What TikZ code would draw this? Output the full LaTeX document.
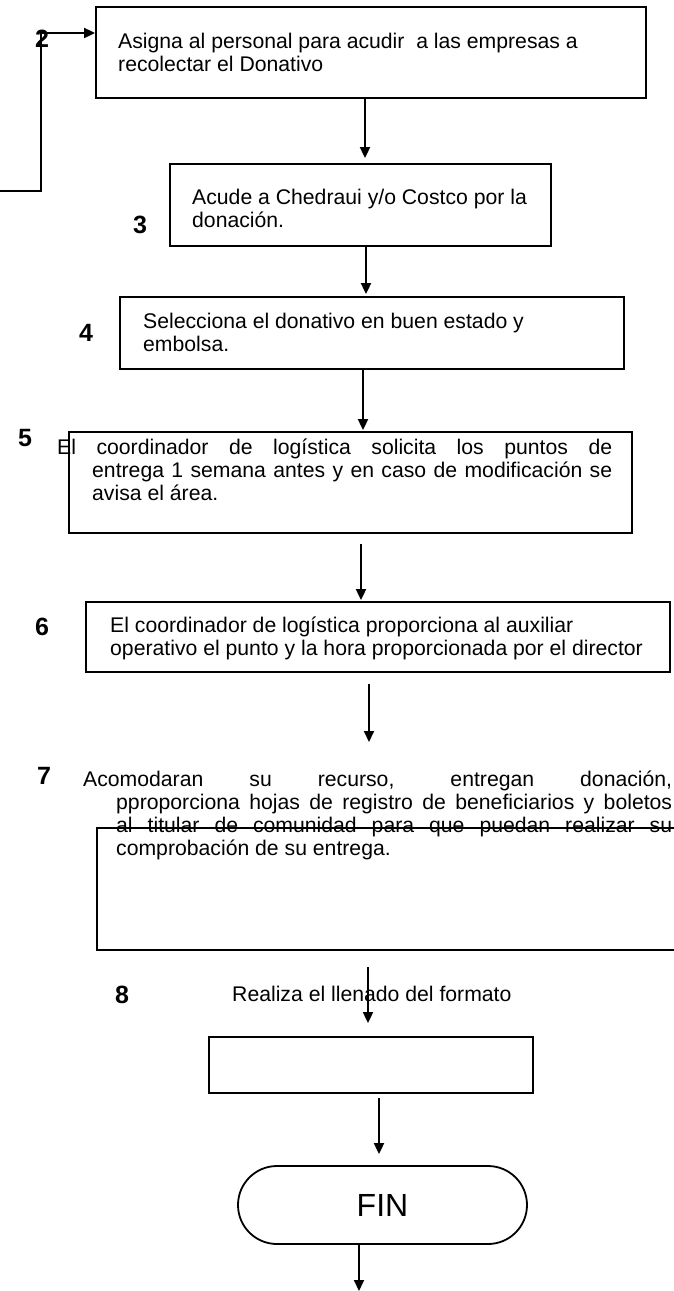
\documentclass[tikz,border=0pt]{standalone}
\usepackage{fontspec}
\setmainfont{Liberation Sans}
\usetikzlibrary{arrows.meta,calc}
\begin{document}
\begin{tikzpicture}[x=1pt,y=-1pt,
  box/.style={draw, line width=1.8pt, inner sep=0pt},
  arr/.style={-{Triangle[length=11pt,width=10pt]}, line width=1.8pt},
  txt/.style={inner sep=0pt, anchor=base west, font=\fontsize{21.2}{23}\selectfont},
  num/.style={inner sep=0pt, font=\bfseries\fontsize{25}{25}\selectfont}]
\useasboundingbox (0,0) rectangle (673,1291);
% boxes
\node[box, minimum width=550pt, minimum height=91pt] (b1) at (371,52.5) {};
\node[box, minimum width=381pt, minimum height=82pt] (b2) at (360.5,205) {};
\node[box, minimum width=504pt, minimum height=72pt] (b4) at (372,333) {};
\node[box, minimum width=563pt, minimum height=101pt] (b5) at (350.5,482.5) {};
\node[box, minimum width=584pt, minimum height=70pt] (b6) at (378,637) {};
\node[box, minimum width=600pt, minimum height=122pt] (b7) at (397,889) {};
\node[box, minimum width=324pt, minimum height=56pt] (b8) at (371,1065) {};
\node[box, minimum width=289pt, minimum height=78pt, rounded corners=39pt,
      font=\fontsize{32}{32}\selectfont] (fin) at (382.5,1205) {FIN};
% texts
\node[txt] (t1) at (118,48) {\parbox[t]{540pt}{\raggedright Asigna al personal para acudir\ \ a las empresas a\\recolectar el Donativo}};
\node[txt] (t2) at (192,204) {\parbox[t]{360pt}{\raggedright Acude a Chedraui y/o Costco por la\\donación.}};
\node[txt] (t4) at (143,328) {\parbox[t]{480pt}{\raggedright Selecciona el donativo en buen estado y\\embolsa.}};
\node[txt] (t5) at (57,454) {\parbox[t]{560pt}{\raggedright
  \makebox[555pt][s]{El coordinador de logística solicita los puntos de}\\
  \hspace*{35pt}\makebox[520pt][s]{entrega 1 semana antes y en caso de modificación se}\\
  \hspace*{35pt}avisa el área.}};
\node[txt] (t6) at (110,632) {\parbox[t]{560pt}{\raggedright El coordinador de logística proporciona al auxiliar\\operativo el punto y la hora proporcionada por el director}};
\node[txt] (t7) at (83,786) {\parbox[t]{600pt}{\raggedright
  \makebox[589pt][s]{Acomodaran su recurso, entregan donación,}\\
  \hspace*{33pt}\makebox[556pt][s]{pproporciona hojas de registro de beneficiarios y boletos}\\
  \hspace*{33pt}\makebox[556pt][s]{al titular de comunidad para que puedan realizar su}\\
  \hspace*{33pt}comprobación de su entrega.}};
\node[txt] (t8) at (232,1001) {Realiza el llenado del formato};
% connector x positions
\coordinate (a1) at (365,0);
\coordinate (a2) at (366,0);
\coordinate (a3) at (363,0);
\coordinate (a4) at (361,0);
\coordinate (a5) at (369,0);
\coordinate (a6) at (368,0);
\coordinate (a7) at (379,0);
\coordinate (a8) at (359,0);
\coordinate (e5) at (369,742);
\coordinate (e8) at (359,1291);
% arrows
\draw[arr] (b1.south -| a1) -- ($(b2.north -| a1)+(0,-5)$);
\draw[arr] (b2.south -| a2) -- ($(b4.north -| a2)+(0,-2)$);
\draw[arr] (b4.south -| a3) -- ($(b5.north -| a3)+(0,-1)$);
\draw[arr] ($(b5.south -| a4)+(0,10)$) -- ($(b6.north -| a4)+(0,-1)$);
\draw[arr] ($(b6.south -| a5)+(0,11)$) -- (e5);
\draw[arr] ($(b7.south -| a6)+(0,16)$) -- ($(b8.north -| a6)+(0,-13)$);
\draw[arr] ($(b8.south -| a7)+(0,4)$) -- ($(fin.north -| a7)+(0,-11)$);
\draw[arr] (fin.south -| a8) -- (e8);
% feedback connector
\coordinate (fb0) at (0,191);
\coordinate (fbk) at (41,33);
\draw[arr] (fb0) -| (fbk) -- (fbk -| b1.west);
% step numbers
\node[num] (n2) at (42,39) {2};
\node[num] (n3) at (140,225) {3};
\node[num] (n4) at (86,333) {4};
\node[num] (n5) at (25,438) {5};
\node[num] (n6) at (42,627) {6};
\node[num] (n7) at (44,776) {7};
\node[num] (n8) at (122,995) {8};
\end{tikzpicture}
\end{document}
